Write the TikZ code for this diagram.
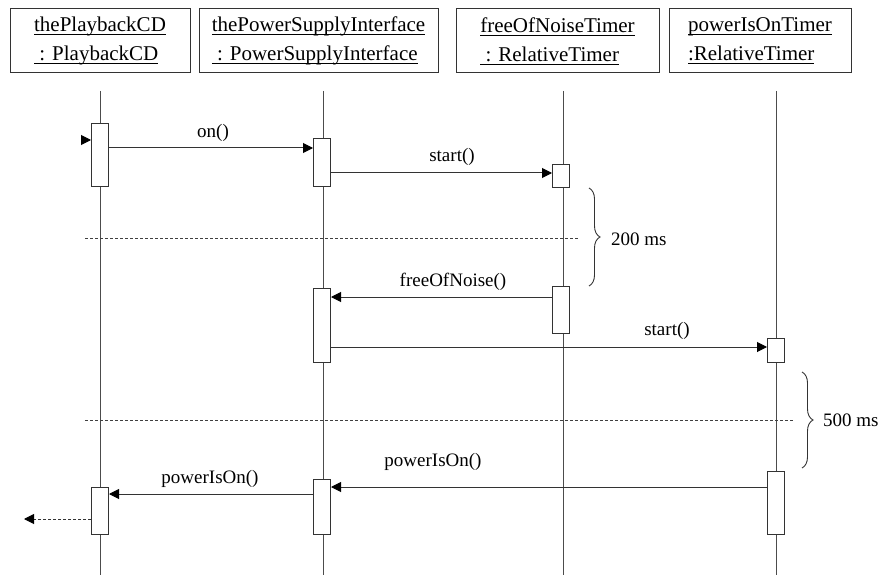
\documentclass[tikz,border=0pt]{standalone}
\usepackage{fontspec}
\setmainfont{Liberation Serif}
\usetikzlibrary{arrows.meta,decorations.pathreplacing}

% underline at a fixed depth below the baseline
\newcommand{\hdrline}[1]{\setbox0=\hbox{#1}\rlap{\rule[-3.5pt]{\wd0}{0.9pt}}\box0}

\tikzset{
  obj/.style={draw=black!80, line width=1pt, rectangle, minimum height=64pt,
              align=left, inner sep=0pt, font=\fontsize{21}{29}\selectfont},
  life/.style={draw=black!70, line width=1pt},
  act/.style={draw=black!80, line width=1pt, fill=white, rectangle,
              minimum width=17pt, inner sep=0pt},
  tip/.style={-{Triangle[length=10pt,width=10pt,color=black]}},
  msg/.style={draw=black!80, line width=1pt, tip},
  ret/.style={draw=black!80, line width=1pt, dash pattern=on 3pt off 2pt, tip},
  sep/.style={draw=black!75, line width=0.9pt, dash pattern=on 3pt off 2pt},
  lbl/.style={font=\fontsize{19}{22}\selectfont, inner sep=0pt},
  timebrace/.style={draw=black!80, line width=0.9pt,
                    decorate, decoration={brace, amplitude=11pt}},
}

\begin{document}
\begin{tikzpicture}[x=1pt, y=-1pt]
\useasboundingbox (0,0) rectangle (884,575);

% objects
\node[obj, minimum width=180pt] (o1) at (100,41)
  {\hdrline{thePlaybackCD}\\\hdrline{\ : PlaybackCD}};
\node[obj, minimum width=239pt] (o2) at (318.5,41)
  {\hdrline{thePowerSupplyInterface}\\\hdrline{\ : PowerSupplyInterface}};
\node[obj, minimum width=203pt] (o3) at (557.5,41)
  {\hdrline{freeOfNoiseTimer}\\\hdrline{\ : RelativeTimer}};
\node[obj, minimum width=182pt] (o4) at (760,41)
  {\hdrline{powerIsOnTimer}\\\hdrline{:RelativeTimer}};

% lifelines
\coordinate (l1t) at (100,91);  \coordinate (l1b) at (100,575);
\coordinate (l2t) at (323,91);  \coordinate (l2b) at (323,575);
\coordinate (l3t) at (563,91);  \coordinate (l3b) at (563,575);
\coordinate (l4t) at (776,91);  \coordinate (l4b) at (776,575);
\draw[life] (l1t) -- (l1b);
\draw[life] (l2t) -- (l2b);
\draw[life] (l3t) -- (l3b);
\draw[life] (l4t) -- (l4b);

% time separators
\coordinate (s1a) at (85,238);  \coordinate (s1b) at (578,238);
\coordinate (s2a) at (85,420);  \coordinate (s2b) at (793,420);
\draw[sep] (s1a) -- (s1b);
\draw[sep] (s2a) -- (s2b);

% activations
\node[act, minimum height=63pt] (a1) at (100,155.5) {};
\node[act, minimum height=48pt] (a2) at (322,163) {};
\node[act, minimum height=23pt] (a3) at (561,176.5) {};
\node[act, minimum height=74pt] (a4) at (322,325) {};
\node[act, minimum height=47pt] (a5) at (561,309.5) {};
\node[act, minimum height=24pt] (a6) at (776,350) {};
\node[act, minimum height=63pt] (a7) at (776,502.5) {};
\node[act, minimum height=47pt] (a8) at (100,510.5) {};
\node[act, minimum height=55pt] (a9) at (322,506.5) {};

% messages
\coordinate (in1) at (81,140);
\draw[msg] (in1) -- (a1.west |- 0,140);
\draw[msg] (a1.east |- 0,148) -- (a2.west |- 0,148);
\draw[msg] (a2.east |- 0,173) -- (a3.west |- 0,173);
\draw[msg] (a5.west |- 0,297) -- (a4.east |- 0,297);
\draw[msg] (a4.east |- 0,347) -- (a6.west |- 0,347);
\draw[msg] (a7.west |- 0,487) -- (a9.east |- 0,487);
\draw[msg] (a9.west |- 0,494) -- (a8.east |- 0,494);
\coordinate (out1) at (24,519);
\draw[ret] (a8.west |- 0,519) -- (out1);

\node[lbl] (m1) at (213,133) {on()};
\node[lbl] (m2) at (452,157) {start()};
\node[lbl] (m3) at (453,282) {freeOfNoise()};
\node[lbl] (m4) at (667,331) {start()};
\node[lbl] (m5) at (433,462) {powerIsOn()};
\node[lbl] (m6) at (210,479) {powerIsOn()};

% timing constraints
\coordinate (b1t) at (589,188); \coordinate (b1b) at (589,286);
\coordinate (b2t) at (802,372); \coordinate (b2b) at (802,468);
\draw[timebrace] (b1t) -- (b1b);
\draw[timebrace] (b2t) -- (b2b);
\node[lbl, anchor=west] (t1) at (611,239) {200 ms};
\node[lbl, anchor=west] (t2) at (823,420) {500 ms};
\end{tikzpicture}
\end{document}
